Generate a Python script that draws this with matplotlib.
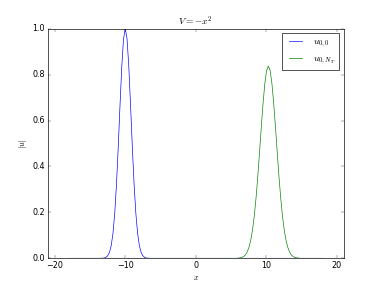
import matplotlib
matplotlib.use('Agg')
import matplotlib.pyplot as plt

plt.style.use('classic')

# sampled |u| profiles
x_left = [-18.0, -14.0, -13.5, -13.0, -12.75, -12.5, -12.25, -12.0, -11.75, -11.5,
          -11.25, -11.0, -10.75, -10.5, -10.25, -10.0, -9.75, -9.5, -9.25, -9.0,
          -8.75, -8.5, -8.25, -8.0, -7.75, -7.5, -7.25, -7.0, -6.5, -6.0, 18.0]
u_left = [0.0, 0.0, 0.0, 0.001, 0.004, 0.011, 0.025, 0.055, 0.108, 0.195,
          0.322, 0.484, 0.665, 0.834, 0.956, 1.0, 0.956, 0.834, 0.665, 0.484,
          0.322, 0.195, 0.108, 0.055, 0.025, 0.011, 0.004, 0.001, 0.0, 0.0, 0.0]

x_right = [-18.0, 5.5, 5.8, 6.3, 6.55, 6.8, 7.05, 7.3, 7.55, 7.8, 8.05, 8.3, 8.55,
           8.8, 9.05, 9.3, 9.55, 9.8, 10.05, 10.3, 10.55, 10.8, 11.05, 11.3, 11.55,
           11.8, 12.05, 12.3, 12.55, 12.8, 13.05, 13.3, 13.55, 13.8, 14.05, 14.3,
           14.8, 18.0]
u_right = [0.0, 0.0, 0.0, 0.002, 0.004, 0.008, 0.015, 0.028, 0.048, 0.079, 0.123,
           0.184, 0.263, 0.357, 0.464, 0.574, 0.677, 0.762, 0.818, 0.837, 0.818,
           0.762, 0.677, 0.574, 0.464, 0.357, 0.263, 0.184, 0.123, 0.079, 0.048,
           0.028, 0.015, 0.008, 0.004, 0.002, 0.0, 0.0]

fig = plt.figure(figsize=(8, 287 / 47.75), dpi=47.75)
ax = fig.add_subplot(111)
ax.plot(x_left, u_left, 'b-', label=r'$u_{0,0}$')
ax.plot(x_right, u_right, 'g-', label=r'$u_{0,N_T}$')
ax.set_xlim(-21, 21)
ax.set_ylim(0, 1)
ax.set_title(r'$V=-x^2$')
ax.set_xlabel(r'$x$')
ax.set_ylabel(r'$|u|$')
ax.legend(loc='upper right')
fig.savefig('out.png', dpi=47.75)
